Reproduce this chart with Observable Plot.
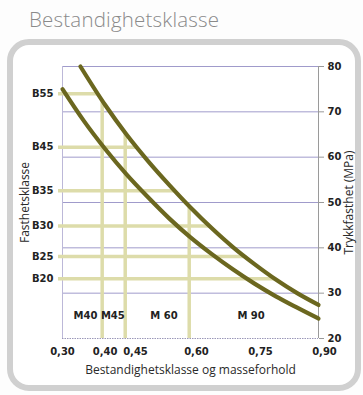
<!DOCTYPE html>
<html>
<head>
<meta charset="utf-8">
<script src="https://cdn.jsdelivr.net/npm/d3@7"></script>
<script src="https://cdn.jsdelivr.net/npm/@observablehq/plot@0.6"></script>
<style>
  html, body { margin: 0; padding: 0; background: #ffffff; }
  #wrap { position: relative; width: 363px; height: 395px; overflow: hidden; background: #fdfdfd; }
  #title { position: absolute; left: 29px; top: 5px; font-family: "Open Sans", sans-serif; font-weight: 300; font-size: 20.5px; color: #8a8a8a; letter-spacing: 0.2px; }
  #card { position: absolute; left: 7px; top: 39px; width: 342px; height: 340px; border: 6px solid #d0d0d0; border-radius: 22px; background: #ffffff; }
  #chart { position: absolute; left: 0; top: 0; }
</style>
</head>
<body>
<div id="wrap">
  <div id="title">Bestandighetsklasse</div>
  <div id="card"></div>
  <div id="chart"></div>
</div>
<script>
// ---- data ----
const xTicks = [0.30, 0.40, 0.45, 0.60, 0.75, 0.90];
const yTicks = [20, 30, 40, 50, 60, 70, 80];
const gridValues = [30, 40, 50, 60, 70, 80];

// upper curve (water/cement ratio -> strength)
const upperX = [0.342, 0.40, 0.45, 0.50, 0.55, 0.60, 0.65, 0.70, 0.75, 0.80, 0.85, 0.90];
const upperY = [80.0, 71.5, 65.0, 59.2, 53.9, 48.9, 44.3, 40.1, 36.4, 33.0, 30.0, 27.4];
// lower curve
const lowerX = [0.30, 0.35, 0.40, 0.45, 0.50, 0.55, 0.60, 0.65, 0.70, 0.75, 0.80, 0.85, 0.90];
const lowerY = [75.0, 68.0, 61.8, 56.2, 51.2, 46.5, 42.3, 38.6, 35.2, 32.1, 29.3, 26.8, 24.4];

// strength classes (left labels) and their MPa level
const strengthNames = ["B55", "B45", "B35", "B30", "B25", "B20"];
const strengthLevels = [74.0, 62.2, 52.6, 44.8, 38.1, 33.2];

// durability classes (vertical lines) and their w/c ratio
const durabilityNames = ["M40", "M45", "M 60", "M 90"];
const durabilityRatios = [0.393, 0.447, 0.597];
const durabilityLabelX = [0.354, 0.418, 0.538, 0.742];
const durabilityLabelY = [25, 25, 25, 25];

const xLabel = "Bestandighetsklasse og masseforhold";
const yLabelRight = "Trykkfasthet (MPa)";
const yLabelLeft = "Fasthetsklasse";

// ---- derived tables ----
const upper = upperX.map((x, i) => ({x, y: upperY[i]}));
const lower = lowerX.map((x, i) => ({x, y: lowerY[i]}));

function upperXAt(v) {
  for (let i = 0; i < upper.length - 1; i++) {
    const a = upper[i], b = upper[i + 1];
    if ((a.y - v) * (b.y - v) <= 0) return a.x + (v - a.y) / (b.y - a.y) * (b.x - a.x);
  }
  return upper[0].x;
}
function upperYAt(x) {
  for (let i = 0; i < upper.length - 1; i++) {
    const a = upper[i], b = upper[i + 1];
    if (x >= a.x && x <= b.x) return a.y + (x - a.x) / (b.x - a.x) * (b.y - a.y);
  }
  return upper[0].y;
}

const hLines = strengthLevels.map((v, i) => ({name: strengthNames[i], y: v, x1: xTicks[0], x2: upperXAt(v)}));
const vLines = durabilityRatios.map((x, i) => ({x, y1: yTicks[0], y2: upperYAt(x)}));
const mLabels = durabilityNames.map((t, i) => ({t, x: durabilityLabelX[i], y: durabilityLabelY[i]}));
const nameByLevel = new Map(strengthLevels.map((v, i) => [v, strengthNames[i]]));

const lavender = "#a09bcb";
const beige = "#dddcaa";
const olive = "#6b671f";
const boldFont = "DejaVu Sans, sans-serif";
const fmt = d => d.toFixed(2).replace(".", ",");
const tickStyle = {fontSize: 10, fontWeight: "bold", fill: "#222", fontFamily: boldFont, label: null};

const chart = Plot.plot({
  width: 363,
  height: 395,
  marginLeft: 62,
  marginRight: 45,
  marginTop: 66,
  marginBottom: 57,
  style: {background: "transparent", overflow: "visible", fontFamily: boldFont},
  x: {domain: [0.30, 0.90]},
  y: {domain: [20, 80]},
  marks: [
    // grid
    Plot.ruleY(gridValues, {stroke: lavender, strokeWidth: 1}),
    Plot.ruleX([xTicks[0]], {stroke: "#bcb8d8", strokeWidth: 1}),
    Plot.ruleY([yTicks[0]], {stroke: "#9a97b8", strokeWidth: 1, strokeDasharray: "1.5,1"}),
    Plot.ruleX([xTicks[xTicks.length - 1]], {stroke: "#9a9a9a", strokeWidth: 1}),
    // beige guide lines
    Plot.ruleY(hLines, {y: "y", x1: "x1", x2: "x2", stroke: beige, strokeWidth: 3.5, insetLeft: -4}),
    Plot.ruleX(vLines, {x: "x", y1: "y1", y2: "y2", stroke: beige, strokeWidth: 3.5}),
    // curves
    Plot.line(upper, {x: "x", y: "y", stroke: olive, strokeWidth: 4.2, curve: "monotone-x"}),
    Plot.line(lower, {x: "x", y: "y", stroke: olive, strokeWidth: 4.2, curve: "monotone-x"}),
    // M labels
    Plot.text(mLabels, {x: "x", y: "y", text: "t", fontSize: 10, fontWeight: "bold", fill: "#222", fontFamily: boldFont}),
    // x axis tick labels (offsets as in the reference)
    Plot.axisX(xTicks.slice(0, 2), {anchor: "bottom", tickSize: 0, tickPadding: 9, dx: 0, tickFormat: fmt, ...tickStyle}),
    Plot.axisX(xTicks.slice(2, 3), {anchor: "bottom", tickSize: 0, tickPadding: 9, dx: 9, tickFormat: fmt, ...tickStyle}),
    Plot.axisX(xTicks.slice(3), {anchor: "bottom", tickSize: 0, tickPadding: 9, dx: 6, tickFormat: fmt, ...tickStyle}),
    Plot.axisX({
      anchor: "bottom", ticks: [], label: xLabel, labelAnchor: "center", labelOffset: 35, labelArrow: "none",
      fontSize: 12, fontFamily: "Open Sans, sans-serif", fill: "#2a2a2a"
    }),
    Plot.axisY(yTicks, {anchor: "right", tickSize: 5, tickPadding: 4, stroke: "#999", ...tickStyle}),
    Plot.axisY({
      anchor: "right", ticks: [], label: yLabelRight, labelAnchor: "center", labelOffset: 34, labelArrow: "none",
      fontSize: 12, fontFamily: "Open Sans, sans-serif", fill: "#2a2a2a"
    }),
    Plot.axisY(strengthLevels, {anchor: "left", tickSize: 0, tickPadding: 9, tickFormat: d => nameByLevel.get(d), ...tickStyle}),
    Plot.axisY({
      anchor: "left", ticks: [], label: yLabelLeft, labelAnchor: "center", labelOffset: 42, labelArrow: "none",
      fontSize: 12, fontFamily: "Open Sans, sans-serif", fill: "#2a2a2a"
    })
  ]
});
document.getElementById("chart").appendChild(chart);
</script>
</body>
</html>
